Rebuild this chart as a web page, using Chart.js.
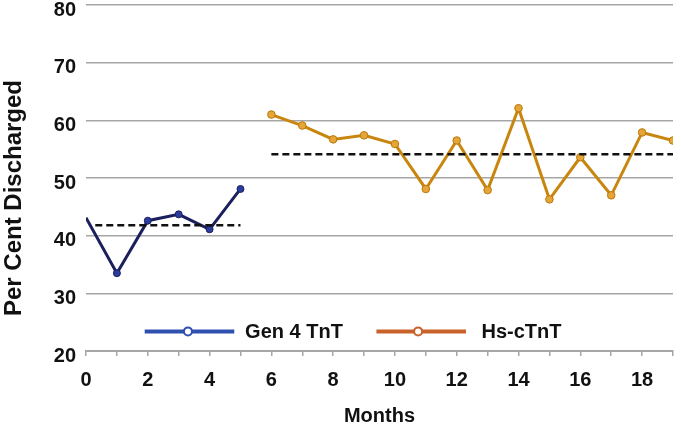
<!DOCTYPE html>
<html lang="en">
<head>
  <meta charset="UTF-8">
  <title>Per Cent Discharged by Month</title>
  <script src="https://cdn.jsdelivr.net/npm/chart.js"></script>
  <style>
    body {
      margin: 0;
      background-color: #ffffff;
    }
    #wrap {
      width: 681px;
      height: 433px;
    }
  </style>
</head>
<body>
  <div id="wrap"><canvas id="dischargeChart"></canvas></div>

  <script>
    // values
    const genMonths = [0, 1, 2, 3, 4, 5];
    const genValues = [43.1, 33.5, 42.6, 43.7, 41.1, 48.1];
    const hsMonths = [6, 7, 8, 9, 10, 11, 12, 13, 14, 15, 16, 17, 18, 19];
    const hsValues = [61.0, 59.1, 56.7, 57.4, 55.9, 48.1, 56.5, 47.9, 62.1, 46.3, 53.6, 47.0, 57.9, 56.5];
    const genMeanMonths = [0.3, 5];
    const genMean = 41.8;
    const hsMeanMonths = [6, 19];
    const hsMean = 54.1;
    const legendLabels = ['Gen 4 TnT', 'Hs-cTnT'];

    const toPoints = (xs, ys) => xs.map((x, i) => ({ x: x, y: Array.isArray(ys) ? ys[i] : ys }));

    const NAVY = '#1b205c';
    const GOLD = '#c8860e';

    // legend sits inside the plot, drawn by hand since its swatches differ from the lines
    const innerLegend = {
      id: 'innerLegend',
      afterDatasetsDraw(chart) {
        const { ctx, scales: { x, y } } = chart;
        const yPix = y.getPixelForValue(23.4);
        const items = [
          { label: legendLabels[0], color: '#3050b0', from: 1.9, to: 4.8, dot: 3.3, text: 5.15 },
          { label: legendLabels[1], color: '#c8622a', from: 9.4, to: 12.3, dot: 10.75, text: 12.8 }
        ];
        ctx.save();
        items.forEach(it => {
          ctx.strokeStyle = it.color;
          ctx.lineWidth = 4;
          ctx.beginPath();
          ctx.moveTo(x.getPixelForValue(it.from), yPix);
          ctx.lineTo(x.getPixelForValue(it.to), yPix);
          ctx.stroke();
          ctx.fillStyle = '#ffffff';
          ctx.lineWidth = 2;
          ctx.beginPath();
          ctx.arc(x.getPixelForValue(it.dot), yPix, 4, 0, Math.PI * 2);
          ctx.fill();
          ctx.stroke();
          ctx.fillStyle = '#111111';
          ctx.font = 'bold 20px "Liberation Sans", Arial, sans-serif';
          ctx.textBaseline = 'middle';
          ctx.textAlign = 'left';
          ctx.fillText(it.label, x.getPixelForValue(it.text), yPix + 1);
        });
        ctx.restore();
      }
    };

    const ctx = document.getElementById('dischargeChart').getContext('2d');
    new Chart(ctx, {
      type: 'scatter',
      data: {
        datasets: [
          {
            label: 'Gen 4 TnT mean',
            data: toPoints(genMeanMonths, genMean),
            showLine: true,
            borderColor: '#111111',
            borderWidth: 2.5,
            borderDash: [7, 4],
            pointRadius: 0
          },
          {
            label: 'Hs-cTnT mean',
            data: toPoints(hsMeanMonths, hsMean),
            showLine: true,
            borderColor: '#111111',
            borderWidth: 2.5,
            borderDash: [7, 4],
            pointRadius: 0
          },
          {
            label: legendLabels[0],
            data: toPoints(genMonths, genValues),
            showLine: true,
            borderColor: NAVY,
            borderWidth: 3,
            pointRadius: [0, 3.5, 3.5, 3.5, 3.5, 3.5],
            pointBackgroundColor: '#2b3b9e',
            pointBorderColor: '#1b205c',
            pointBorderWidth: 1
          },
          {
            label: legendLabels[1],
            data: toPoints(hsMonths, hsValues),
            showLine: true,
            borderColor: GOLD,
            borderWidth: 3,
            pointRadius: 3.8,
            pointBackgroundColor: '#e6a537',
            pointBorderColor: '#b9770a',
            pointBorderWidth: 1
          }
        ]
      },
      options: {
        responsive: true,
        maintainAspectRatio: false,
        animation: false,
        layout: { padding: { left: 0, right: 8, top: 4, bottom: 0 } },
        plugins: {
          legend: { display: false },
          tooltip: { enabled: false }
        },
        scales: {
          x: {
            type: 'linear',
            min: 0,
            max: 19,
            afterFit(scale) {
              scale.height = 82;
              scale.paddingLeft = 0;
              scale.paddingRight = 0;
            },
            border: { display: true, color: '#a6a6a6', width: 2 },
            grid: {
              drawOnChartArea: false,
              drawTicks: true,
              tickLength: 5,
              color: '#a6a6a6',
              lineWidth: 1.5
            },
            ticks: {
              stepSize: 1,
              autoSkip: false,
              maxRotation: 0,
              padding: 12,
              color: '#111111',
              font: { family: '"Liberation Sans", Arial, sans-serif', size: 20, weight: 'bold' },
              callback: v => (v % 2 === 0 ? v : '')
            },
            title: {
              display: true,
              text: 'Months',
              color: '#111111',
              padding: { top: 0, bottom: 5 },
              font: { family: '"Liberation Sans", Arial, sans-serif', size: 20, weight: 'bold' }
            }
          },
          y: {
            min: 20,
            max: 80,
            afterFit(scale) {
              scale.width = 86;
              scale.paddingTop = 0;
              scale.paddingBottom = 0;
            },
            border: { display: false },
            grid: {
              drawTicks: false,
              color: '#a6a6a6',
              lineWidth: 1.5
            },
            ticks: {
              stepSize: 10,
              padding: 10,
              labelOffset: 5,
              color: '#111111',
              font: { family: '"Liberation Sans", Arial, sans-serif', size: 20, weight: 'bold' }
            },
            title: {
              display: true,
              text: 'Per Cent Discharged\u00A0\u00A0\u00A0\u00A0\u00A0\u00A0',
              color: '#111111',
              padding: { top: 0, bottom: 0 },
              font: { family: '"Liberation Sans", Arial, sans-serif', size: 24, weight: 'bold' }
            }
          }
        }
      },
      plugins: [innerLegend]
    });
  </script>
</body>
</html>
